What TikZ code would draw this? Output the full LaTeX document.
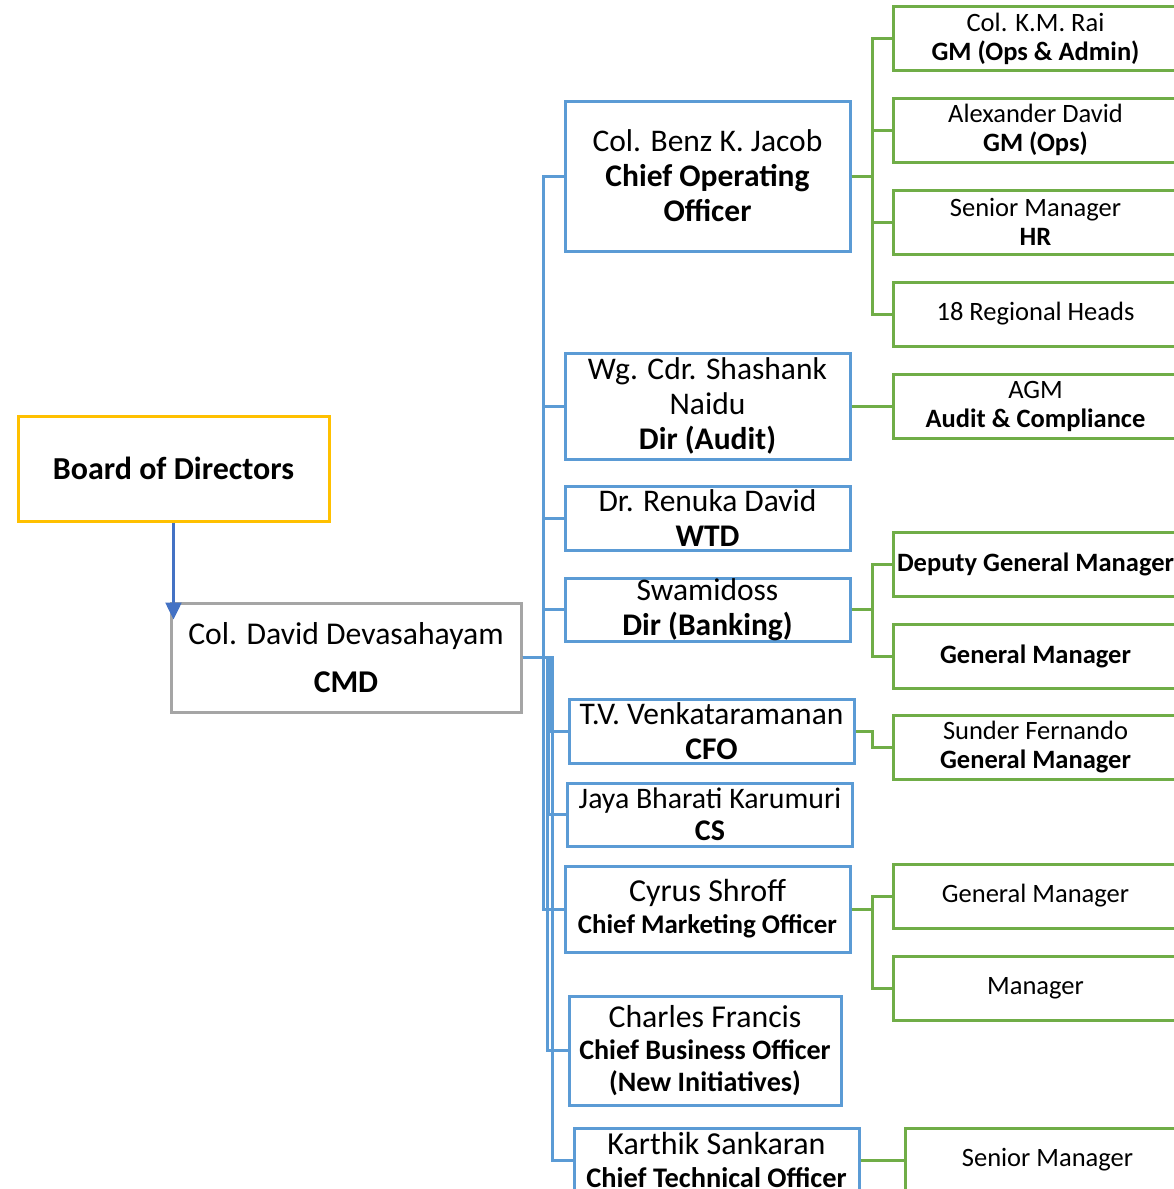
\documentclass[tikz,border=0pt]{standalone}
\usepackage{fontspec}
\setmainfont{Carlito}
\usetikzlibrary{arrows.meta}
\definecolor{cblue}{HTML}{5B9BD5}
\definecolor{cgreen}{HTML}{70AD47}
\definecolor{cyellow}{HTML}{FFC000}
\definecolor{cgray}{HTML}{A5A5A5}
\definecolor{carrow}{HTML}{4472C4}
\begin{document}
\begin{tikzpicture}[x=1pt,y=-1pt,
 bluebox/.style={draw=cblue,line width=3pt,minimum width=285pt,minimum height=64pt,inner sep=0pt,align=center,font=\fontsize{31.5}{35}\selectfont},
 greenbox/.style={draw=cgreen,line width=3pt,minimum width=285pt,minimum height=64pt,inner sep=0pt,align=center,font=\fontsize{26.5}{29}\selectfont},
 bconn/.style={draw=cblue,line width=3pt},
 gconn/.style={draw=cgreen,line width=3pt}]
\useasboundingbox (0,0) rectangle (1174,1189);
\clip (0,0) rectangle (1174,1189);
% top level
\node[draw=cyellow,line width=3pt,minimum width=311pt,minimum height=105pt,inner sep=0pt,font=\fontsize{32}{35}\selectfont\bfseries] (bod) at (173.5,468.5) {Board of Directors};
\node[draw=cgray,line width=3pt,minimum width=350pt,minimum height=109pt,inner sep=0pt,align=center,font=\fontsize{31.7}{48}\selectfont] (cmd) at (346,657.5) {Col. David Devasahayam\\\textbf{CMD}};
% blue boxes
\node[bluebox,minimum height=150pt] (coo) at (707.5,176) {Col. Benz K. Jacob\\\textbf{Chief Operating}\\\textbf{Officer}};
\node[bluebox,minimum height=106pt] (audit) at (707.5,406) {Wg. Cdr. Shashank\\Naidu\\\textbf{Dir (Audit)}};
\node[bluebox] (wtd) at (707.5,518) {Dr. Renuka David\\\textbf{WTD}};
\node[bluebox,minimum height=63pt] (bank) at (707.5,609.5) {Swamidoss\\\textbf{Dir (Banking)}};
\node[bluebox] (cfo) at (711.5,731) {T.V. Venkataramanan\\\textbf{CFO}};
\node[bluebox,minimum height=63pt,font=\fontsize{29.8}{32}\selectfont] (cs) at (710,814.5) {Jaya Bharati Karumuri\\{\fontsize{30}{32}\selectfont\textbf{CS}}};
\node[bluebox,minimum height=86pt,font=\fontsize{26.9}{32}\selectfont] (cmo) at (707.5,909) {{\fontsize{32}{32}\selectfont Cyrus Shroff}\\\textbf{Chief Marketing Officer}};
\node[bluebox,minimum width=272pt,minimum height=109pt,font=\fontsize{28.1}{32}\selectfont] (cbo) at (705,1050.5) {{\fontsize{31.8}{32}\selectfont Charles Francis}\\\textbf{Chief Business Officer}\\\textbf{(New Initiatives)}};
\node[bluebox,font=\fontsize{28.4}{33}\selectfont] (cto) at (716.5,1160) {{\fontsize{32}{33}\selectfont Karthik Sankaran}\\\textbf{Chief Technical Officer}};
% green boxes
\node[greenbox] (g1) at (1035.5,38.5) {Col. K.M. Rai\\\textbf{GM (Ops \& Admin)}};
\node[greenbox] (g2) at (1035.5,130) {Alexander David\\\textbf{GM (Ops)}};
\node[greenbox] (g3) at (1035.5,222) {Senior Manager\\\textbf{HR}};
\node[greenbox] (g4) at (1035.5,314) {18 Regional Heads};
\node[greenbox] (g5) at (1035.5,406) {AGM\\\textbf{Audit \& Compliance}};
\node[greenbox] (g6) at (1035.5,564) {\textbf{Deputy General Manager}};
\node[greenbox] (g7) at (1035.5,656) {\textbf{General Manager}};
\node[greenbox] (g8) at (1035.5,747.5) {Sunder Fernando\\\textbf{General Manager}};
\node[greenbox] (g9) at (1035.5,896) {General Manager};
\node[greenbox] (g10) at (1035.5,988) {Manager};
\node[greenbox] (g11) at (1047.5,1160) {Senior Manager};
% arrow
\draw[carrow,line width=2.5pt,-{Triangle[width=16pt,length=17pt]},shorten >=-18pt] (bod.south) -- (bod.south |- cmd.north);
% blue connectors
\foreach \t in {coo,audit,wtd,bank,cmo}
  \draw[bconn] (cmd.east) -- ++(21,0) |- (\t.west);
\draw[bconn] (cmd.east) -- ++(27,0) |- (cfo.west);
\draw[bconn] (cmd.east) -- ++(26,0) |- (cs.west);
\draw[bconn] (cmd.east) -- ++(25,0) |- (cbo.west);
\draw[bconn] (cmd.east) -- ++(30,0) |- (cto.west);
% green connectors
\foreach \t in {g1,g2,g3,g4}
  \draw[gconn] (coo.east) -- ++(21,0) |- (\t.west);
\draw[gconn] (audit.east) -- (g5.west);
\foreach \t in {g6,g7}
  \draw[gconn] (bank.east) -- ++(21,0) |- (\t.west);
\draw[gconn] (cfo.east) -- ++(17,0) |- (g8.west);
\foreach \t in {g9,g10}
  \draw[gconn] (cmo.east) -- ++(21,0) |- (\t.west);
\draw[gconn] (cto.east) -- (g11.west);
\end{tikzpicture}
\end{document}
